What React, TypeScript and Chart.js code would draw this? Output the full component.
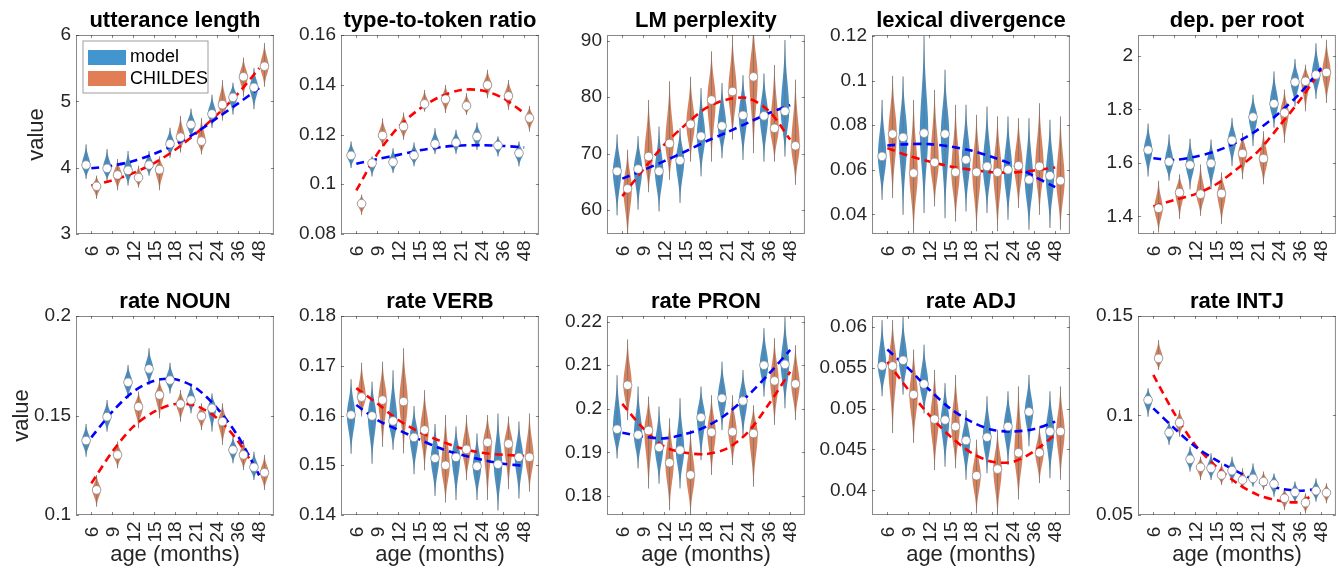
import React, { useEffect, useRef } from 'react';
import { Chart, registerables } from 'chart.js';
Chart.register(...registerables);

const FONT = '"Liberation Sans", Arial, Helvetica, sans-serif';
const AGES = ['6', '9', '12', '15', '18', '21', '24', '36', '48'];

// each violin: [low, median, high]
const uttModel = [[3.83, 4.04, 4.35], [3.8, 3.99, 4.28], [3.73, 3.96, 4.25], [3.88, 4.04, 4.25], [4.15, 4.36, 4.6], [4.43, 4.65, 4.89], [4.6, 4.81, 5.1], [4.8, 5.06, 5.28], [4.88, 5.21, 5.5]];
const uttChildes = [[3.53, 3.72, 3.88], [3.66, 3.89, 4.13], [3.7, 3.85, 4.03], [3.66, 3.97, 4.17], [4.23, 4.46, 4.78], [4.2, 4.4, 4.75], [4.71, 4.95, 5.32], [5.07, 5.37, 5.66], [5.22, 5.53, 5.88]];
const uttModelFit = [3.99, 4.03, 4.1, 4.21, 4.35, 4.53, 4.75, 4.97, 5.2];
const uttChildesFit = [3.73, 3.81, 3.92, 4.07, 4.27, 4.52, 4.8, 5.12, 5.5];

const ttrModel = [[0.1065, 0.1116, 0.1172], [0.1031, 0.1085, 0.1112], [0.1045, 0.1089, 0.1145], [0.1072, 0.1116, 0.1168], [0.1122, 0.1162, 0.1225], [0.1122, 0.1168, 0.1219], [0.1138, 0.1192, 0.1248], [0.1112, 0.1156, 0.1192], [0.1072, 0.1125, 0.1172]];
const ttrChildes = [[0.0877, 0.0922, 0.0958], [0.1152, 0.1196, 0.1265], [0.1179, 0.1232, 0.1288], [0.1292, 0.1323, 0.1379], [0.1286, 0.1342, 0.1399], [0.1279, 0.1315, 0.1366], [0.1346, 0.1399, 0.146], [0.1299, 0.1355, 0.1419], [0.1212, 0.1266, 0.1315]];
const ttrModelFit = [0.1082, 0.1101, 0.1118, 0.1136, 0.1149, 0.1156, 0.1157, 0.1154, 0.1148];
const ttrChildesFit = [0.0975, 0.1122, 0.1229, 0.1302, 0.1352, 0.1379, 0.1377, 0.1346, 0.1286];

const lmModel = [[59.1, 66.9, 73.4], [60.1, 67.3, 73.1], [59.8, 66.9, 74.8], [61.3, 68.8, 74.5], [66.0, 73.1, 81.6], [69.2, 74.9, 82.5], [68.9, 76.8, 83.9], [68.6, 76.7, 84.2], [69.5, 77.5, 90.1]];
const lmChildes = [[55.0, 63.8, 70.7], [63.2, 69.5, 79.5], [65.4, 71.8, 82.8], [68.6, 75.2, 83.6], [68.6, 79.5, 88.1], [72.5, 81.0, 91.0], [70.1, 83.6, 93.0], [68.6, 74.5, 85.7], [64.5, 71.4, 83.1]];
const lmModelFit = [65.6, 67.1, 68.7, 70.4, 72.2, 73.8, 75.5, 77.2, 78.6];
const lmChildesFit = [62.5, 67.2, 71.6, 75.1, 78.1, 79.6, 79.8, 77.5, 72.5];

const lexModel = [[0.0465, 0.066, 0.0913], [0.0398, 0.0745, 0.1018], [0.0406, 0.0764, 0.12], [0.0383, 0.076, 0.1048], [0.0413, 0.0645, 0.0891], [0.0406, 0.0615, 0.0883], [0.0376, 0.06, 0.0839], [0.0331, 0.0555, 0.0831], [0.0339, 0.0573, 0.0824]];
const lexChildes = [[0.0473, 0.076, 0.1021], [0.0316, 0.0585, 0.0913], [0.0436, 0.0633, 0.0958], [0.0368, 0.0589, 0.0891], [0.0324, 0.0589, 0.0846], [0.0324, 0.0589, 0.0839], [0.0428, 0.0618, 0.0831], [0.0398, 0.0615, 0.0898], [0.0331, 0.0551, 0.0839]];
const lexModelFit = [0.0709, 0.0715, 0.0715, 0.0704, 0.0686, 0.0657, 0.0622, 0.057, 0.0522];
const lexChildesFit = [0.0697, 0.0663, 0.0637, 0.0615, 0.06, 0.0589, 0.0588, 0.0597, 0.061];

const depModel = [[1.549, 1.648, 1.747], [1.533, 1.604, 1.706], [1.501, 1.592, 1.69], [1.501, 1.598, 1.687], [1.588, 1.684, 1.768], [1.663, 1.771, 1.855], [1.731, 1.821, 1.942], [1.811, 1.902, 1.988], [1.839, 1.929, 2.047]];
const depChildes = [[1.34, 1.43, 1.533], [1.39, 1.489, 1.557], [1.402, 1.483, 1.594], [1.371, 1.485, 1.564], [1.539, 1.635, 1.712], [1.52, 1.616, 1.718], [1.675, 1.787, 1.874], [1.793, 1.905, 1.967], [1.824, 1.938, 2.06]];
const depModelFit = [1.617, 1.611, 1.623, 1.644, 1.678, 1.725, 1.787, 1.861, 1.954];
const depChildesFit = [1.437, 1.461, 1.483, 1.52, 1.578, 1.644, 1.737, 1.836, 1.948];

const nounModel = [[0.1293, 0.1374, 0.1457], [0.1419, 0.1494, 0.1578], [0.1586, 0.1667, 0.1754], [0.1653, 0.1734, 0.1838], [0.1611, 0.1678, 0.1765], [0.1511, 0.1578, 0.1662], [0.1419, 0.1536, 0.1611], [0.126, 0.1327, 0.1394], [0.1176, 0.124, 0.1318]];
const nounChildes = [[0.1042, 0.1126, 0.1201], [0.1235, 0.1302, 0.1369], [0.1436, 0.1544, 0.162], [0.1486, 0.1603, 0.1678], [0.1469, 0.1558, 0.1628], [0.1427, 0.1497, 0.1561], [0.1352, 0.1469, 0.1561], [0.1226, 0.1302, 0.1377], [0.1126, 0.1213, 0.1302]];
const nounModelFit = [0.139, 0.1519, 0.162, 0.1675, 0.1682, 0.1637, 0.1536, 0.1394, 0.12];
const nounChildesFit = [0.1159, 0.1318, 0.1444, 0.1519, 0.1558, 0.1548, 0.1486, 0.1369, 0.12];

const verbModel = [[0.1523, 0.1601, 0.1673], [0.1503, 0.1599, 0.1668], [0.1531, 0.1589, 0.1691], [0.1482, 0.1556, 0.1619], [0.1438, 0.1514, 0.1583], [0.143, 0.1516, 0.1578], [0.143, 0.1498, 0.1564], [0.1409, 0.1502, 0.1604], [0.1433, 0.1516, 0.1588]];
const verbChildes = [[0.1598, 0.1637, 0.1706], [0.1537, 0.1631, 0.1708], [0.1524, 0.1628, 0.1735], [0.149, 0.1571, 0.1651], [0.1425, 0.15, 0.1601], [0.147, 0.1532, 0.1601], [0.143, 0.1546, 0.1601], [0.1452, 0.1543, 0.1598], [0.1447, 0.1516, 0.1604]];
const verbModelFit = [0.1621, 0.1591, 0.1571, 0.1552, 0.1534, 0.1521, 0.1511, 0.1503, 0.1499];
const verbChildesFit = [0.1655, 0.1624, 0.1591, 0.1567, 0.1549, 0.1534, 0.1525, 0.1521, 0.1519];

const pronModel = [[0.1886, 0.1953, 0.2077], [0.1863, 0.194, 0.2051], [0.1828, 0.1911, 0.2005], [0.1817, 0.1905, 0.2024], [0.1882, 0.198, 0.2051], [0.1951, 0.2024, 0.2108], [0.1936, 0.2018, 0.2089], [0.2028, 0.21, 0.2185], [0.2001, 0.2102, 0.2211]];
const pronChildes = [[0.1974, 0.2054, 0.2159], [0.1817, 0.195, 0.2028], [0.1767, 0.1876, 0.1978], [0.1756, 0.1848, 0.1951], [0.1848, 0.1946, 0.2031], [0.1871, 0.1947, 0.2031], [0.1821, 0.1943, 0.2008], [0.1963, 0.2064, 0.2162], [0.1974, 0.2057, 0.2146]];
const pronModelFit = [0.1945, 0.1936, 0.1932, 0.1942, 0.1959, 0.1989, 0.2031, 0.2081, 0.2135];
const pronChildesFit = [0.2011, 0.1955, 0.1913, 0.1899, 0.1896, 0.1909, 0.1947, 0.2012, 0.2085];

const adjModel = [[0.0515, 0.0552, 0.0608], [0.0517, 0.0559, 0.0612], [0.0494, 0.053, 0.0578], [0.0429, 0.0486, 0.0531], [0.0413, 0.0461, 0.0498], [0.0421, 0.0465, 0.0515], [0.0431, 0.0478, 0.0521], [0.0454, 0.0496, 0.0541], [0.0415, 0.0472, 0.0521]];
const adjChildes = [[0.047, 0.0552, 0.0608], [0.0458, 0.0517, 0.0572], [0.0425, 0.0487, 0.0547], [0.0427, 0.0478, 0.0541], [0.0372, 0.0418, 0.0462], [0.0368, 0.0426, 0.0474], [0.0389, 0.0446, 0.0527], [0.0409, 0.0446, 0.0478], [0.0413, 0.0472, 0.0527]];
const adjModelFit = [0.0572, 0.0549, 0.0523, 0.05, 0.0484, 0.0474, 0.0472, 0.0475, 0.0484];
const adjChildesFit = [0.0557, 0.0523, 0.0492, 0.0466, 0.0446, 0.0435, 0.0435, 0.0448, 0.0468];

const intjModel = [[0.0994, 0.1078, 0.1137], [0.0852, 0.0914, 0.0969], [0.0718, 0.078, 0.0843], [0.0676, 0.0735, 0.081], [0.0659, 0.0723, 0.0793], [0.0642, 0.0684, 0.0759], [0.0592, 0.0656, 0.0709], [0.0559, 0.0614, 0.0668], [0.0567, 0.0622, 0.0684]];
const intjChildes = [[0.1229, 0.1287, 0.1379], [0.0894, 0.0964, 0.1028], [0.0676, 0.074, 0.0793], [0.0651, 0.0701, 0.0759], [0.0634, 0.0676, 0.0734], [0.0626, 0.0668, 0.0718], [0.0525, 0.0584, 0.0634], [0.0508, 0.0562, 0.0609], [0.0559, 0.0612, 0.0659]];
const intjModelFit = [0.1036, 0.0936, 0.0843, 0.0776, 0.0718, 0.0668, 0.0634, 0.0622, 0.0634];
const intjChildesFit = [0.1204, 0.1011, 0.0852, 0.0743, 0.0659, 0.06, 0.0572, 0.0567, 0.0629];

const TITLES = ['utterance length', 'type-to-token ratio', 'LM perplexity', 'lexical divergence', 'dep. per root', 'rate NOUN', 'rate VERB', 'rate PRON', 'rate ADJ', 'rate INTJ'];
const Y_MIN = [3, 0.08, 55.8, 0.0312, 1.334, 0.1, 0.14, 0.1756, 0.037, 0.05];
const Y_MAX = [6, 0.16, 91, 0.1204, 2.078, 0.2, 0.18, 0.2213, 0.0613, 0.15];
const Y_TICKS = [
  [3, 4, 5, 6],
  [0.08, 0.1, 0.12, 0.14, 0.16],
  [60, 70, 80, 90],
  [0.04, 0.06, 0.08, 0.1, 0.12],
  [1.4, 1.6, 1.8, 2],
  [0.1, 0.15, 0.2],
  [0.14, 0.15, 0.16, 0.17, 0.18],
  [0.18, 0.19, 0.2, 0.21, 0.22],
  [0.04, 0.045, 0.05, 0.055, 0.06],
  [0.05, 0.1, 0.15],
];

const PANELS = [
  { model: uttModel, childes: uttChildes, modelFit: uttModelFit, childesFit: uttChildesFit },
  { model: ttrModel, childes: ttrChildes, modelFit: ttrModelFit, childesFit: ttrChildesFit },
  { model: lmModel, childes: lmChildes, modelFit: lmModelFit, childesFit: lmChildesFit },
  { model: lexModel, childes: lexChildes, modelFit: lexModelFit, childesFit: lexChildesFit },
  { model: depModel, childes: depChildes, modelFit: depModelFit, childesFit: depChildesFit },
  { model: nounModel, childes: nounChildes, modelFit: nounModelFit, childesFit: nounChildesFit },
  { model: verbModel, childes: verbChildes, modelFit: verbModelFit, childesFit: verbChildesFit },
  { model: pronModel, childes: pronChildes, modelFit: pronModelFit, childesFit: pronChildesFit },
  { model: adjModel, childes: adjChildes, modelFit: adjModelFit, childesFit: adjChildesFit },
  { model: intjModel, childes: intjChildes, modelFit: intjModelFit, childesFit: intjChildesFit },
];

const VIOLIN_BLUE = 'rgb(70,144,198)';
const VIOLIN_ORANGE = 'rgb(214,128,92)';
const LEGEND_BLUE = 'rgb(66,149,207)';
const LEGEND_ORANGE = 'rgb(225,126,86)';
const TEXT = '#262626';
const AXIS = 'rgba(38,38,38,0.55)';

const COL_LEFT = [76, 341, 607, 872, 1138];
const ROW_TOP = [35, 316];
const BOX = 199;
const Y_AXIS_W = 76;
const TITLE_H = 35;
const X_AXIS_H = [45, 54];
const CANVAS_W = Y_AXIS_W + BOX + 4;

function fmt(v: number) {
  return String(+Number(v).toFixed(6));
}

function drawViolin(ctx: CanvasRenderingContext2D, cx: number, yl: number, ym: number, yh: number, color: string) {
  const W = 4.2;
  const N = 48;
  const sUp = Math.max((ym - yh) / 2.5, 0.5);
  const sDn = Math.max((yl - ym) / 2.5, 0.5);
  const prof = (yy: number) => {
    const s = yy < ym ? sUp : sDn;
    const d = (yy - ym) / s;
    return W * Math.exp(-0.5 * d * d);
  };
  ctx.beginPath();
  for (let k = 0; k <= N; k++) {
    const yy = yh + ((yl - yh) * k) / N;
    ctx.lineTo(cx + prof(yy), yy);
  }
  for (let k = N; k >= 0; k--) {
    const yy = yh + ((yl - yh) * k) / N;
    ctx.lineTo(cx - prof(yy), yy);
  }
  ctx.closePath();
  ctx.fillStyle = color;
  ctx.fill();
  ctx.beginPath();
  ctx.moveTo(cx, yh);
  ctx.lineTo(cx, yl);
  ctx.strokeStyle = 'rgba(115,115,115,0.75)';
  ctx.lineWidth = 1;
  ctx.stroke();
}

function buildConfig(k: number): any {
  const p = PANELS[k];
  const row = Math.floor(k / 5);
  const col = k % 5;
  const groups: [number[][], number, string][] = [
    [p.model, -0.25, VIOLIN_BLUE],
    [p.childes, 0.25, VIOLIN_ORANGE],
  ];
  const violinPlugin = {
    id: 'violins' + k,
    beforeDatasetsDraw(chart: any) {
      const { ctx, chartArea: a, scales } = chart;
      const xs = scales.x, ys = scales.y;
      ctx.save();
      ctx.beginPath();
      ctx.rect(a.left, a.top, a.right - a.left, a.bottom - a.top);
      ctx.clip();
      groups.forEach(([arr, off, colr]) => {
        arr.forEach((v, i) => {
          drawViolin(ctx, xs.getPixelForValue(i + 1 + off), ys.getPixelForValue(v[0]), ys.getPixelForValue(v[1]), ys.getPixelForValue(v[2]), colr);
        });
      });
      ctx.restore();
    },
  };
  const framePlugin = {
    id: 'frame' + k,
    afterDatasetsDraw(chart: any) {
      const { ctx, chartArea: a, scales } = chart;
      const xs = scales.x, ys = scales.y;
      ctx.save();
      ctx.strokeStyle = AXIS;
      ctx.lineWidth = 1;
      ctx.strokeRect(a.left + 0.5, a.top + 0.5, a.right - a.left - 1, a.bottom - a.top - 1);
      ctx.beginPath();
      const TL = 3;
      AGES.forEach((_, i) => {
        const px = Math.round(xs.getPixelForValue(i + 1)) + 0.5;
        ctx.moveTo(px, a.bottom);
        ctx.lineTo(px, a.bottom - TL);
        ctx.moveTo(px, a.top);
        ctx.lineTo(px, a.top + TL);
      });
      Y_TICKS[k].forEach((v) => {
        const py = Math.round(ys.getPixelForValue(v)) + 0.5;
        ctx.moveTo(a.left, py);
        ctx.lineTo(a.left + TL, py);
        ctx.moveTo(a.right, py);
        ctx.lineTo(a.right - TL, py);
      });
      ctx.stroke();
      // rotated x tick labels, centred on each tick
      ctx.fillStyle = TEXT;
      ctx.font = '19px ' + FONT;
      ctx.textAlign = 'center';
      ctx.textBaseline = 'middle';
      AGES.forEach((lab, i) => {
        ctx.save();
        ctx.translate(xs.getPixelForValue(i + 1), a.bottom + 17);
        ctx.rotate(-Math.PI / 2);
        ctx.fillText(lab, 0, 1);
        ctx.restore();
      });
      if (k === 0) {
        const lx = a.left + 6.5, ly = a.top + 5.5;
        ctx.fillStyle = '#ffffff';
        ctx.fillRect(lx, ly, 125, 52);
        ctx.strokeStyle = 'rgba(38,38,38,0.45)';
        ctx.strokeRect(lx + 0.5, ly + 0.5, 125, 52);
        ctx.fillStyle = LEGEND_BLUE;
        ctx.fillRect(a.left + 12, a.top + 15, 38, 15);
        ctx.fillStyle = LEGEND_ORANGE;
        ctx.fillRect(a.left + 12, a.top + 36, 38, 15);
        ctx.fillStyle = '#000';
        ctx.font = '18px ' + FONT;
        ctx.textAlign = 'left';
        ctx.textBaseline = 'middle';
        ctx.fillText('model', a.left + 54, a.top + 22.5);
        ctx.fillText('CHILDES', a.left + 54, a.top + 44);
      }
      ctx.restore();
    },
  };
  const xH = X_AXIS_H[row];
  return {
    type: 'scatter',
    data: {
      datasets: [
        {
          data: p.model.map((v, i) => ({ x: i + 1 - 0.25, y: v[1] })),
          pointRadius: 4.3,
          pointBackgroundColor: '#ffffff',
          pointBorderColor: '#8c8c8c',
          pointBorderWidth: 0.8,
          showLine: false,
          clip: false,
        },
        {
          data: p.childes.map((v, i) => ({ x: i + 1 + 0.25, y: v[1] })),
          pointRadius: 4.3,
          pointBackgroundColor: '#ffffff',
          pointBorderColor: '#8c8c8c',
          pointBorderWidth: 0.8,
          showLine: false,
          clip: false,
        },
        {
          data: p.modelFit.map((v, i) => ({ x: i + 1, y: v })),
          showLine: true,
          borderColor: '#0000ff',
          borderWidth: 2.6,
          borderDash: [8, 5],
          pointRadius: 0,
          tension: 0.3,
          fill: false,
        },
        {
          data: p.childesFit.map((v, i) => ({ x: i + 1, y: v })),
          showLine: true,
          borderColor: '#ff0000',
          borderWidth: 2.6,
          borderDash: [8, 5],
          pointRadius: 0,
          tension: 0.3,
          fill: false,
        },
      ],
    },
    options: {
      responsive: false,
      animation: false,
      events: [],
      layout: { padding: { top: 0, right: 4, bottom: 0, left: 0 } },
      plugins: {
        legend: { display: false },
        tooltip: { enabled: false },
        title: {
          display: true,
          text: TITLES[k],
          fullSize: false,
          color: '#000000',
          font: { family: FONT, size: 22, weight: 'bold', lineHeight: 1.2 },
          padding: { top: 8, bottom: 0.6 },
        },
      },
      scales: {
        x: {
          type: 'linear',
          min: 0.27,
          max: 9.7,
          grid: { display: false, drawTicks: false },
          border: { display: false },
          ticks: { display: false },
          title: {
            display: row === 1,
            text: 'age (months)',
            color: TEXT,
            font: { family: FONT, size: 22, lineHeight: 1.2 },
            padding: { top: 0, bottom: 1 },
          },
          afterFit: (s: any) => {
            s.height = xH;
          },
        },
        y: {
          type: 'linear',
          min: Y_MIN[k],
          max: Y_MAX[k],
          grid: { display: false, drawTicks: false },
          border: { display: false },
          afterBuildTicks: (s: any) => {
            s.ticks = Y_TICKS[k].map((v) => ({ value: v }));
          },
          ticks: {
            color: TEXT,
            font: { family: FONT, size: 19 },
            padding: 5,
            callback: (v: any) => fmt(v),
          },
          title: {
            display: col === 0,
            text: 'value',
            color: TEXT,
            font: { family: FONT, size: 22, lineHeight: 1.2 },
            padding: { top: row === 0 ? 24 : 9, bottom: 0 },
          },
          afterFit: (s: any) => {
            s.width = Y_AXIS_W;
          },
        },
      },
    },
    plugins: [violinPlugin, framePlugin],
  };
}

export default function App() {
  const refs = useRef<(HTMLCanvasElement | null)[]>([]);
  useEffect(() => {
    const charts = PANELS.map((_, k) => new Chart(refs.current[k] as HTMLCanvasElement, buildConfig(k)));
    return () => {
      charts.forEach((c) => c.destroy());
    };
  }, []);
  return (
    <div style={{ position: 'absolute', left: 0, top: 0, width: 1338, height: 569, overflow: 'hidden', background: '#ffffff' }}>
      {PANELS.map((_, k) => {
        const row = Math.floor(k / 5);
        const col = k % 5;
        const left = COL_LEFT[col] - Y_AXIS_W;
        const top = ROW_TOP[row] - TITLE_H;
        const h = TITLE_H + BOX + X_AXIS_H[row];
        return (
          <canvas
            key={k}
            ref={(el) => {
              refs.current[k] = el;
            }}
            width={CANVAS_W}
            height={h}
            style={{ position: 'absolute', left, top, width: CANVAS_W, height: h }}
          />
        );
      })}
    </div>
  );
}
